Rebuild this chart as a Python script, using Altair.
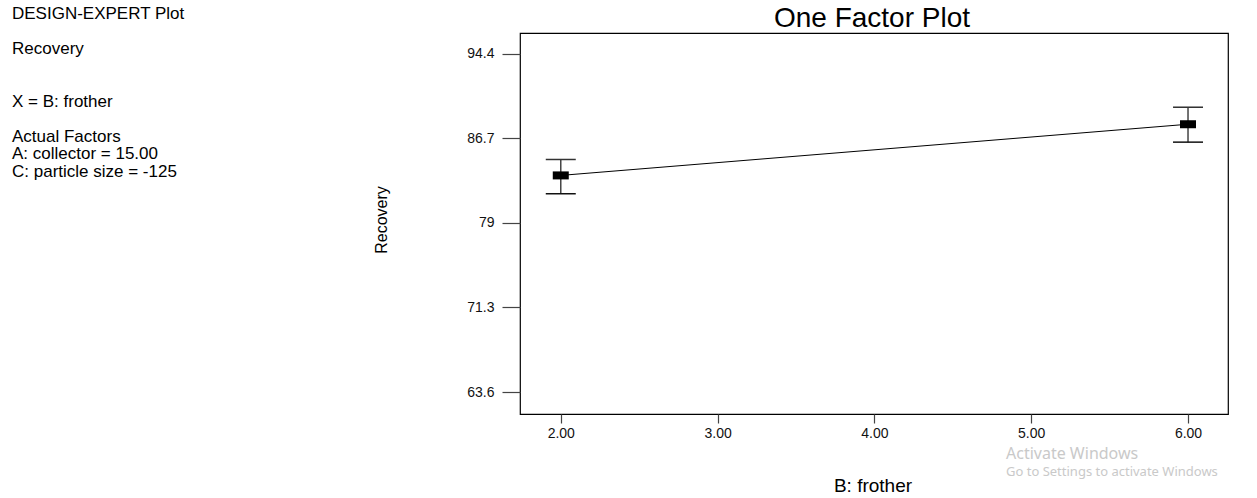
import altair as alt
import pandas as pd

# ---- data ----
frother = [2.0, 6.0]
recovery = [83.33, 87.99]
lower = [81.66, 86.36]
upper = [84.78, 89.54]

y_ticks = [63.6, 71.3, 79.0, 86.7, 94.4]
x_ticks = [2.0, 3.0, 4.0, 5.0, 6.0]

info_lines = [
    "DESIGN-EXPERT Plot",
    "Recovery",
    "X = B: frother",
    "Actual Factors",
    "A: collector = 15.00",
    "C: particle size = -125",
]
info_baselines = [-14, 21.3, 73.7, 108.7, 126.3, 143.7]

df = pd.DataFrame({"frother": frother, "recovery": recovery,
                   "lower": lower, "upper": upper})

FONT = "Liberation Sans"
W, H = 708, 381

xs = alt.Scale(domain=[1.74, 6.255], nice=False, zero=False)
ys = alt.Scale(domain=[61.6, 96.3], nice=False, zero=False)

xaxis = alt.Axis(values=x_ticks, format=".2f", title=None, grid=False,
                 domain=False, tickSize=9, tickColor="#444", tickWidth=1.2,
                 labelFont=FONT, labelFontSize=14, labelColor="#111",
                 labelPadding=3)
yaxis = alt.Axis(values=y_ticks, format=".1~f", title=None, grid=False,
                 domain=False, tickSize=18, tickColor="#444", tickWidth=1.2,
                 labelFont=FONT, labelFontSize=14, labelColor="#111",
                 labelPadding=8)

base = alt.Chart(df)

line = base.mark_line(color="#000", strokeWidth=1).encode(
    x=alt.X("frother:Q", scale=xs, axis=xaxis),
    y=alt.Y("recovery:Q", scale=ys, axis=yaxis),
)
bars = base.mark_rule(color="#444", strokeWidth=1.5).encode(
    x=alt.X("frother:Q", scale=xs),
    y=alt.Y("lower:Q", scale=ys),
    y2="upper:Q",
)
cap_hi = base.mark_tick(orient="horizontal", size=30, thickness=1.5,
                        color="#333", opacity=1).encode(
    x=alt.X("frother:Q", scale=xs), y=alt.Y("upper:Q", scale=ys))
cap_lo = base.mark_tick(orient="horizontal", size=30, thickness=1.5,
                        color="#111", opacity=1).encode(
    x=alt.X("frother:Q", scale=xs), y=alt.Y("lower:Q", scale=ys))
boxes = base.mark_tick(orient="horizontal", size=16, thickness=8,
                       color="#000", opacity=1).encode(
    x=alt.X("frother:Q", scale=xs), y=alt.Y("recovery:Q", scale=ys))


def label(txt, x, y, size, align="left", color="#000", angle=0,
          weight="normal", font=FONT, baseline="alphabetic"):
    kw = dict(text=txt, align=align, baseline=baseline, fontSize=size,
              color=color, font=font, fontWeight=weight)
    if angle:
        kw["angle"] = angle
    return alt.Chart(alt.Data(values=[{}])).mark_text(**kw).encode(
        x=alt.value(x), y=alt.value(y))


texts = [label("One Factor Plot", 352, -6.3, 28, align="center"),
         label("B: frother", 353, 459, 19, align="center"),
         label("Recovery", -138, 187, 16, align="center", angle=270,
               baseline="middle"),
         label("Activate Windows", 486, 426, 16, color="#c9c9c9",
               font="Noto Sans"),
         label("Go to Settings to activate Windows", 486, 443, 13,
               color="#c9c9c9", font="Noto Sans")]
for t, b in zip(info_lines, info_baselines):
    texts.append(label(t, -508, b, 17))

chart = alt.layer(line, bars, cap_hi, cap_lo, boxes, *texts).properties(
    width=W, height=H,
    background="white",
    autosize=alt.AutoSizeParams(type="none"),
    padding={"left": 520, "top": 33, "right": 29, "bottom": 84},
).configure_view(stroke="#000", strokeWidth=1.2)

chart.save("out.html", embed_options={"renderer": "svg", "actions": False})
